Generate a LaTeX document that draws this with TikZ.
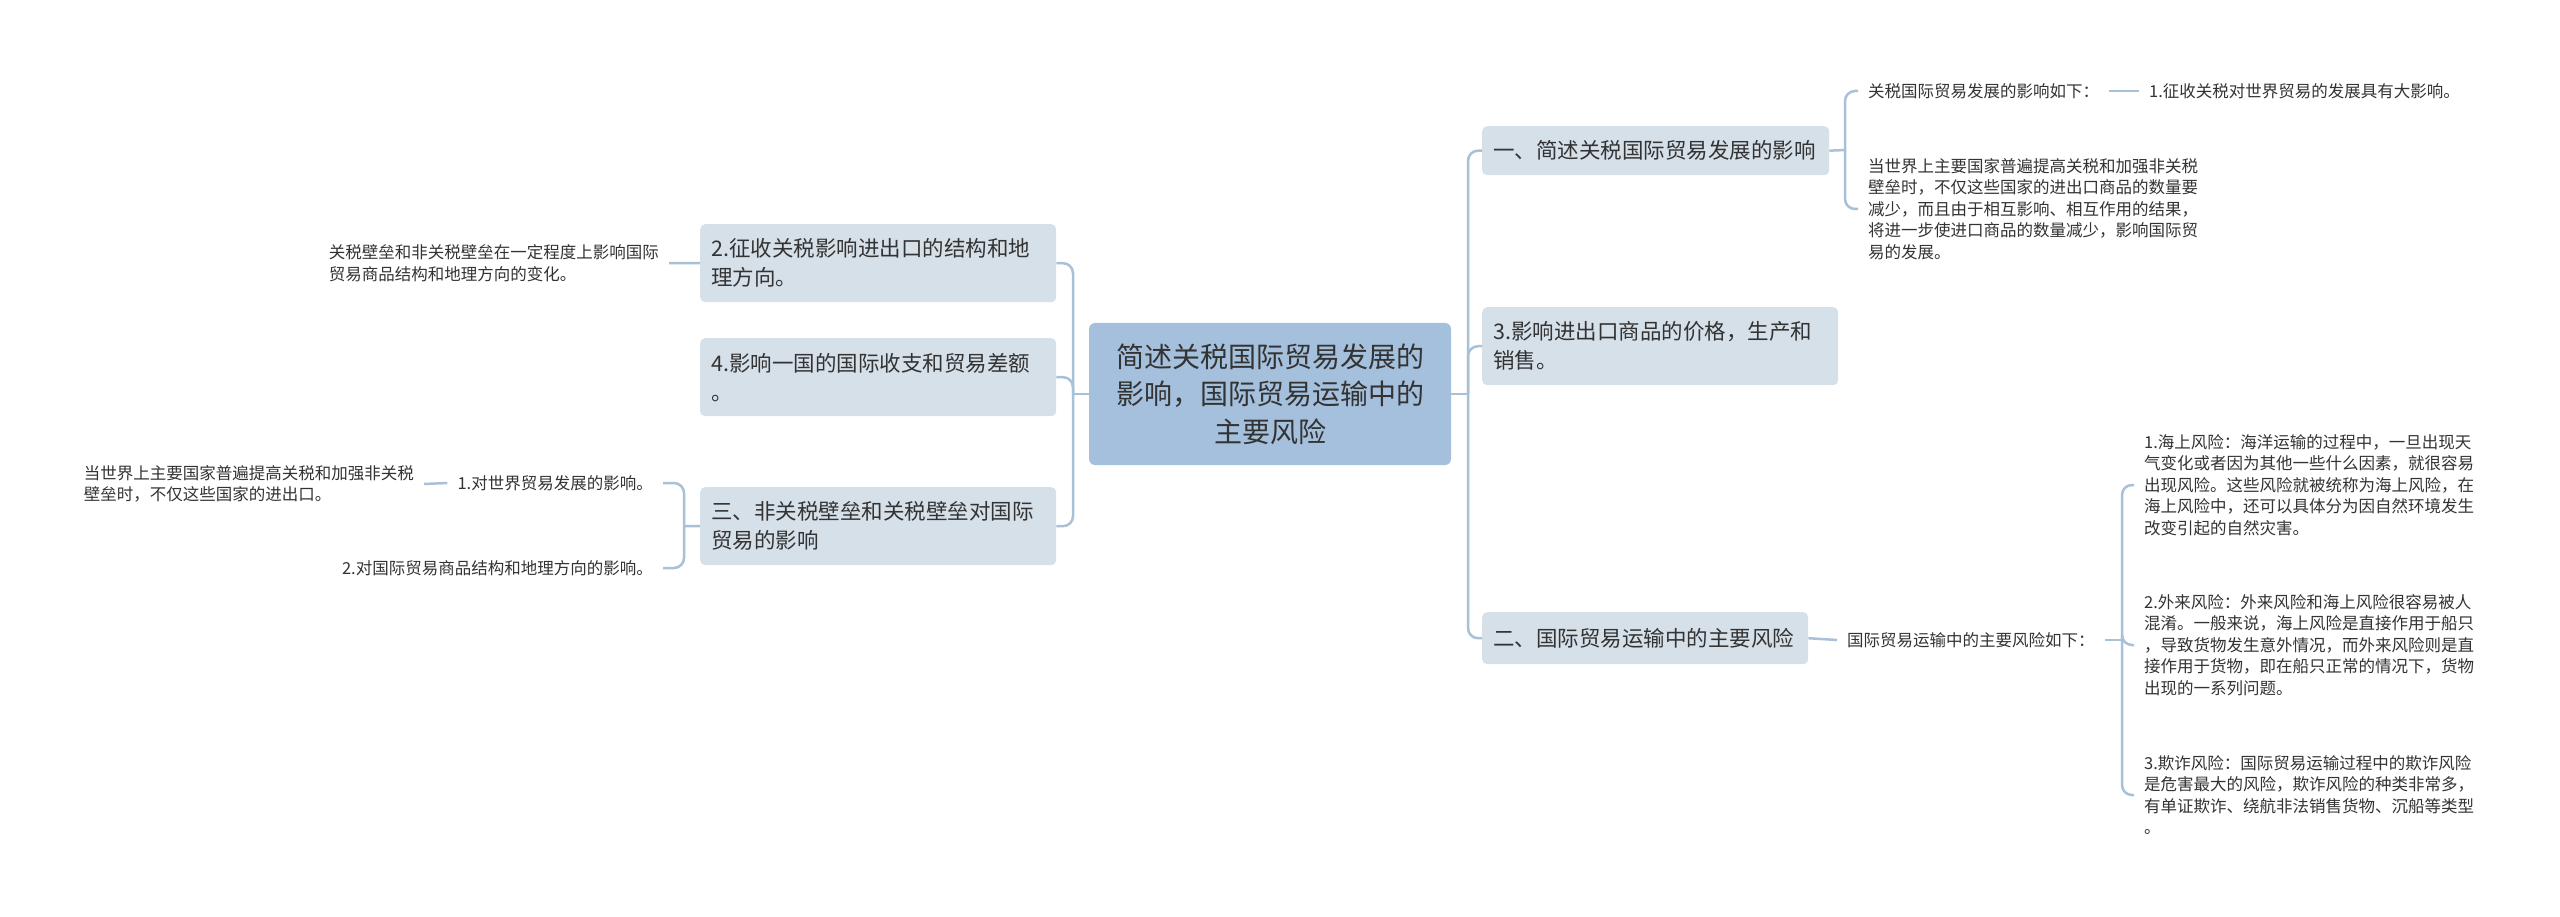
\documentclass[tikz,border=0pt]{standalone}
\usepackage{fontspec}
\setmainfont{Noto Sans CJK SC}
\usetikzlibrary{calc}
\definecolor{rootfill}{HTML}{A4C0DC}
\definecolor{lfill}{HTML}{D5E0E9}
\definecolor{conncol}{HTML}{A9C1D8}
\definecolor{txt}{HTML}{333333}
\tikzset{
 rootbox/.style={fill=rootfill, rounded corners=6pt, align=center, text=txt, font=\fontsize{28}{37.5}\selectfont, minimum width=362pt, minimum height=142pt, inner sep=0pt},
 lvlbox/.style={fill=lfill, rounded corners=5pt, align=left, text=txt, font=\fontsize{21.5}{29}\selectfont, inner xsep=11pt, inner ysep=0pt, anchor=north west},
 leaf/.style={align=left, text=txt, font=\fontsize{16.5}{21.5}\selectfont, inner xsep=10pt, inner ysep=2pt},
 conn/.style={draw=conncol, line width=2.5pt, rounded corners=10pt},
}
\begin{document}
\begin{tikzpicture}[x=1pt,y=-1pt]
\useasboundingbox[fill=white] (0,0) rectangle (2560,917);
% root
\node[rootbox] (root) at (1270,394) {简述关税国际贸易发展的\\影响，国际贸易运输中的\\主要风险};
% right level 1
\node[lvlbox, text width=325pt, minimum height=49pt] (R1) at (1482,126) {一、简述关税国际贸易发展的影响};
\node[lvlbox, text width=334pt, minimum height=78pt] (R2) at (1482,307) {3.影响进出口商品的价格，生产和\\销售。};
\node[lvlbox, text width=304pt, minimum height=52pt] (R3) at (1482,612) {二、国际贸易运输中的主要风险};
% left level 1
\node[lvlbox, text width=334pt, minimum height=78pt] (L1) at (700,224) {2.征收关税影响进出口的结构和地\\理方向。};
\node[lvlbox, text width=334pt, minimum height=78pt] (L2) at (700,338) {4.影响一国的国际收支和贸易差额\\。};
\node[lvlbox, text width=334pt, minimum height=78pt] (L3) at (700,487) {三、非关税壁垒和关税壁垒对国际\\贸易的影响};
% right leaves
\node[leaf, anchor=west] (c1a) at (1858,91) {关税国际贸易发展的影响如下：};
\node[leaf, anchor=west] (c1c) at (2139,91) {1.征收关税对世界贸易的发展具有大影响。};
\node[leaf, anchor=west] (c1b) at (1858,209) {当世界上主要国家普遍提高关税和加强非关税\\壁垒时，不仅这些国家的进出口商品的数量要\\减少，而且由于相互影响、相互作用的结果，\\将进一步使进口商品的数量减少，影响国际贸\\易的发展。};
\node[leaf, anchor=west] (c3) at (1837,640) {国际贸易运输中的主要风险如下：};
\node[leaf, anchor=west] (r1) at (2134,485) {1.海上风险：海洋运输的过程中，一旦出现天\\气变化或者因为其他一些什么因素，就很容易\\出现风险。这些风险就被统称为海上风险，在\\海上风险中，还可以具体分为因自然环境发生\\改变引起的自然灾害。};
\node[leaf, anchor=west] (r2) at (2134,645) {2.外来风险：外来风险和海上风险很容易被人\\混淆。一般来说，海上风险是直接作用于船只\\，导致货物发生意外情况，而外来风险则是直\\接作用于货物，即在船只正常的情况下，货物\\出现的一系列问题。};
\node[leaf, anchor=west] (r3) at (2134,795) {3.欺诈风险：国际贸易运输过程中的欺诈风险\\是危害最大的风险，欺诈风险的种类非常多，\\有单证欺诈、绕航非法销售货物、沉船等类型\\。};
% left leaves
\node[leaf, anchor=east] (l1c) at (669,263) {关税壁垒和非关税壁垒在一定程度上影响国际\\贸易商品结构和地理方向的变化。};
\node[leaf, anchor=east] (l3a) at (663,483) {1.对世界贸易发展的影响。};
\node[leaf, anchor=east] (l3b) at (663,568) {2.对国际贸易商品结构和地理方向的影响。};
\node[leaf, anchor=east] (l3aa) at (424,484) {当世界上主要国家普遍提高关税和加强非关税\\壁垒时，不仅这些国家的进出口。};
% connectors right
\coordinate (rj) at (1468,394);
\draw[conn] (root.east) -- (rj);
\draw[conn] (rj) |- (R1.west);
\draw[conn] (rj) |- (R2.west);
\draw[conn] (rj) |- (R3.west);
\coordinate (b1) at (1845,150);
\draw[conn] (R1.east) -- (b1);
\draw[conn] (b1) |- (c1a.west);
\draw[conn] (b1) |- (c1b.west);
\draw[conn] (c1a.east) -- (c1c.west);
\draw[conn] (R3.east) -- (c3.west);
\coordinate (b3) at (2122,640);
\draw[conn] (c3.east) -- (b3);
\draw[conn] (b3) |- (r1.west);
\draw[conn] (b3) |- (r2.west);
\draw[conn] (b3) |- (r3.west);
% connectors left
\coordinate (lj) at (1073,394);
\draw[conn] (root.west) -- (lj);
\draw[conn] (lj) |- (L1.east);
\draw[conn] (lj) |- (L2.east);
\draw[conn] (lj) |- (L3.east);
\draw[conn] (L1.west) -- (l1c.east);
\coordinate (bl3) at (684,526);
\draw[conn] (L3.west) -- (bl3);
\draw[conn] (bl3) |- (l3a.east);
\draw[conn] (bl3) |- (l3b.east);
\draw[conn] (l3a.west) -- (l3aa.east);
\end{tikzpicture}
\end{document}
